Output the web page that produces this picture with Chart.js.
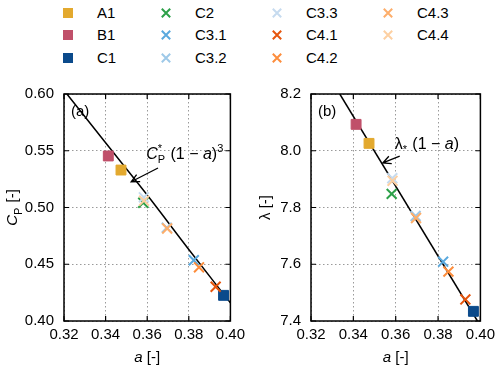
<!DOCTYPE html>
<html>
<head>
<meta charset="utf-8">
<script src="https://cdn.jsdelivr.net/npm/chart.js@4/dist/chart.umd.min.js"></script>
<style>
  body { margin: 0; width: 500px; height: 370px; background: #fff; position: relative; overflow: hidden;
         font-family: "Liberation Sans", Arial, sans-serif; }
  .panel { position: absolute; top: 70px; width: 250px; height: 300px; }
  .item { position: absolute; height: 18px; font-size: 15px; line-height: 18px; color: #000; white-space: nowrap; }
  .item canvas { position: absolute; left: 0; top: 2px; }
  .item span { position: absolute; left: 36px; top: 0; }
</style>
</head>
<body>
<div id="legend"></div>
<canvas id="cp-chart" class="panel" style="left:0" width="250" height="300"></canvas>
<canvas id="lambda-chart" class="panel" style="left:250px" width="250" height="300"></canvas>
<script>
/* ===== DATA ===== */

const cases = ["A1", "B1", "C1", "C2", "C3.1", "C3.2", "C3.3", "C4.1", "C4.2", "C4.3", "C4.4"];
const aVals = [0.3474, 0.3413, 0.3967, 0.3581, 0.3824, 0.3694, 0.3584, 0.3929, 0.3849, 0.3696, 0.3585];
const cpVals = [0.533, 0.5454, 0.4226, 0.5042, 0.4535, 0.4822, 0.5090, 0.4302, 0.4473, 0.4815, 0.5060];
const lambdaVals = [8.026, 8.093, 7.434, 7.848, 7.609, 7.770, 7.903, 7.476, 7.574, 7.763, 7.894];

// model curves
const cpLineA = [0.3214, 0.34, 0.36, 0.38, 0.40];
const cpLineVals = [0.600, 0.557, 0.511, 0.463, 0.416];
const lambdaLineA = [0.3336, 0.3986];
const lambdaLineVals = [8.2, 7.4];

const xTicks = [0.32, 0.34, 0.36, 0.38, 0.40];
const cpTicks = [0.40, 0.45, 0.50, 0.55, 0.60];
const lambdaTicks = [7.4, 7.6, 7.8, 8.0, 8.2];

/* ===== STYLE ===== */

const FONT = '"Liberation Sans", Arial, sans-serif';
const colors = ["#e3a92e", "#c0506a", "#0b4a8b", "#2ca048", "#5aa9de", "#9ec9e8", "#c6dbef",
                "#e6550d", "#fd8d3c", "#fdae6b", "#fdd0a2"];
const markers = ["rect", "rect", "rect", "crossRot", "crossRot", "crossRot", "crossRot",
                 "crossRot", "crossRot", "crossRot", "crossRot"];

Chart.defaults.font.family = FONT;
Chart.defaults.font.size = 15;
Chart.defaults.color = "#000";

/* ===== HELPERS ===== */

// parts: {t, it} normal text, {sub, sup} stacked small text
function richWidth(ctx, parts, size) {
  let w = 0;
  parts.forEach(p => {
    if (p.t !== undefined) {
      ctx.font = (p.it ? "italic " : "") + size + "px " + FONT;
      w += ctx.measureText(p.t).width;
    } else {
      ctx.font = Math.round(size * 0.7) + "px " + FONT;
      w += Math.max(p.sub ? ctx.measureText(p.sub).width : 0, p.sup ? ctx.measureText(p.sup).width : 0) + 1;
    }
  });
  return w;
}

function drawRich(ctx, parts, x, yMid, size, align) {
  const w = richWidth(ctx, parts, size);
  let cx = align === "center" ? x - w / 2 : x;
  const base = yMid + size * 0.36;
  ctx.textAlign = "left";
  ctx.textBaseline = "alphabetic";
  ctx.fillStyle = "#000";
  parts.forEach(p => {
    if (p.t !== undefined) {
      ctx.font = (p.it ? "italic " : "") + size + "px " + FONT;
      ctx.fillText(p.t, cx, base);
      cx += ctx.measureText(p.t).width;
    } else {
      ctx.font = Math.round(size * 0.7) + "px " + FONT;
      let adv = 0;
      if (p.sub) { ctx.fillText(p.sub, cx, base + size * 0.28); adv = ctx.measureText(p.sub).width; }
      if (p.sup) { ctx.fillText(p.sup, cx, base - size * 0.42); adv = Math.max(adv, ctx.measureText(p.sup).width); }
      cx += adv + 1;
    }
  });
}

function drawMarker(ctx, style, color, x, y, r) {
  ctx.save();
  ctx.fillStyle = color;
  ctx.strokeStyle = color;
  if (style === "rect") {
    ctx.fillRect(x - r, y - r, 2 * r, 2 * r);
  } else {
    ctx.lineWidth = 2;
    ctx.beginPath();
    ctx.moveTo(x - r, y - r); ctx.lineTo(x + r, y + r);
    ctx.moveTo(x - r, y + r); ctx.lineTo(x + r, y - r);
    ctx.stroke();
  }
  ctx.restore();
}

function drawArrow(ctx, x0, y0, x1, y1) {
  const ang = Math.atan2(y1 - y0, x1 - x0);
  const h = 9, spread = 0.45;
  ctx.beginPath();
  ctx.moveTo(x0, y0); ctx.lineTo(x1, y1);
  ctx.moveTo(x1 - h * Math.cos(ang - spread), y1 - h * Math.sin(ang - spread));
  ctx.lineTo(x1, y1);
  ctx.lineTo(x1 - h * Math.cos(ang + spread), y1 - h * Math.sin(ang + spread));
  ctx.stroke();
}

/* ===== LEGEND ===== */

function buildLegend() {
  const colX = [68, 166, 277, 388];
  const rowY = [13, 35, 58];
  const box = document.getElementById("legend");
  cases.forEach((c, i) => {
    const col = Math.floor(i / 3), row = i % 3;
    const item = document.createElement("div");
    item.className = "item";
    item.style.left = (colX[col] - 7) + "px";
    item.style.top = (rowY[row] - 9) + "px";
    const cv = document.createElement("canvas");
    cv.width = 14; cv.height = 14;
    drawMarker(cv.getContext("2d"), markers[i], colors[i], 7, 7, markers[i] === "rect" ? 5 : 4.2);
    const sp = document.createElement("span");
    sp.textContent = c;
    item.appendChild(cv);
    item.appendChild(sp);
    box.appendChild(item);
  });
}

/* ===== CHARTS ===== */

const decorPlugin = {
  id: "decor",
  afterDraw(chart, args, o) {
    const { ctx, chartArea: ca, scales: { x, y } } = chart;
    ctx.save();
    ctx.strokeStyle = "#000";
    ctx.lineWidth = 1.2;
    ctx.beginPath();
    x.ticks.forEach(t => {
      const px = x.getPixelForValue(t.value);
      ctx.moveTo(px, ca.bottom); ctx.lineTo(px, ca.bottom - 5);
      ctx.moveTo(px, ca.top); ctx.lineTo(px, ca.top + 5);
    });
    y.ticks.forEach(t => {
      const py = y.getPixelForValue(t.value);
      ctx.moveTo(ca.left, py); ctx.lineTo(ca.left + 5, py);
      ctx.moveTo(ca.right, py); ctx.lineTo(ca.right - 5, py);
    });
    ctx.stroke();
    ctx.lineWidth = 1.5;
    ctx.strokeRect(ca.left, ca.top, ca.width, ca.height);

    // panel label
    ctx.font = "15px " + FONT;
    ctx.fillStyle = "#000";
    ctx.textAlign = "left";
    ctx.textBaseline = "middle";
    ctx.fillText(o.panel, ca.left + 7, ca.top + 18);

    // axis titles
    drawRich(ctx, [{ t: "a", it: true }, { t: " [-]" }], (ca.left + ca.right) / 2, ca.bottom + 36, 15, "center");
    ctx.save();
    ctx.translate(o.yTitleX, (ca.top + ca.bottom) / 2);
    ctx.rotate(-Math.PI / 2);
    drawRich(ctx, o.yTitle, 0, 0, 15, "center");
    ctx.restore();

    // annotation with arrow
    const an = o.annot;
    drawRich(ctx, an.text, x.getPixelForValue(an.at[0]), y.getPixelForValue(an.at[1]), 16, "left");
    ctx.lineWidth = 1.3;
    drawArrow(ctx, x.getPixelForValue(an.from[0]), y.getPixelForValue(an.from[1]),
                   x.getPixelForValue(an.to[0]), y.getPixelForValue(an.to[1]));
    ctx.restore();
  }
};

function createPanel(id, yVals, yTickVals, yDec, lineA, lineVals, pad, decor) {
  const datasets = cases.map((c, i) => ({
    label: c,
    data: [{ x: aVals[i], y: yVals[i] }],
    pointStyle: markers[i],
    pointRadius: 7,
    pointHoverRadius: 7,
    backgroundColor: colors[i],
    borderColor: colors[i],
    borderWidth: markers[i] === "rect" ? 1 : 2,
    order: -i
  }));
  datasets.push({
    label: "model",
    data: lineA.map((a, i) => ({ x: a, y: lineVals[i] })),
    showLine: true,
    pointRadius: 0,
    borderColor: "#000",
    borderWidth: 1.5,
    cubicInterpolationMode: "monotone",
    order: 100
  });

  const gridStyle = { color: "#9a9a9a", lineWidth: 1, drawTicks: false };
  const borderStyle = { display: false, dash: [1.5, 2.5] };

  return new Chart(document.getElementById(id), {
    type: "scatter",
    data: { datasets },
    options: {
      responsive: false,
      animation: false,
      events: [],
      layout: { padding: { top: 24, right: pad.right, left: 0, bottom: 0 } },
      plugins: { legend: { display: false }, tooltip: { enabled: false }, decor },
      scales: {
        x: {
          type: "linear",
          min: xTicks[0],
          max: xTicks[xTicks.length - 1],
          afterBuildTicks: s => { s.ticks = xTicks.map(v => ({ value: v })); },
          afterFit: s => { s.height = 49; },
          ticks: { callback: v => v.toFixed(2), padding: 5, maxRotation: 0, autoSkip: false },
          grid: gridStyle,
          border: borderStyle
        },
        y: {
          type: "linear",
          min: yTickVals[0],
          max: yTickVals[yTickVals.length - 1],
          afterBuildTicks: s => { s.ticks = yTickVals.map(v => ({ value: v })); },
          afterFit: s => { s.width = pad.left; },
          ticks: { callback: v => v.toFixed(yDec), padding: 10, autoSkip: false },
          grid: gridStyle,
          border: borderStyle
        }
      }
    },
    plugins: [decorPlugin]
  });
}

document.addEventListener("DOMContentLoaded", () => {
  buildLegend();

  createPanel("cp-chart", cpVals, cpTicks, 2, cpLineA, cpLineVals, { left: 64, right: 16 }, {
    panel: "(a)",
    yTitleX: 12,
    yTitle: [{ t: "C", it: true }, { sub: "P" }, { t: " [-]" }],
    annot: {
      text: [{ t: "C", it: true }, { sub: "P", sup: "*" }, { t: " (1 \u2212 " }, { t: "a", it: true }, { t: ")" }, { sup: "3" }],
      at: [0.3595, 0.548],
      from: [0.3652, 0.5348],
      to: [0.3523, 0.5227]
    }
  });

  createPanel("lambda-chart", lambdaVals, lambdaTicks, 1, lambdaLineA, lambdaLineVals, { left: 61, right: 19 }, {
    panel: "(b)",
    yTitleX: 15,
    yTitle: [{ t: "\u03bb" }, { t: " [-]" }],
    annot: {
      text: [{ t: "\u03bb" }, { sub: "*" }, { t: " (1 \u2212 " }, { t: "a", it: true }, { t: ")" }],
      at: [0.3595, 8.027],
      from: [0.3619, 7.981],
      to: [0.3539, 7.957]
    }
  });
});
</script>
</body>
</html>
